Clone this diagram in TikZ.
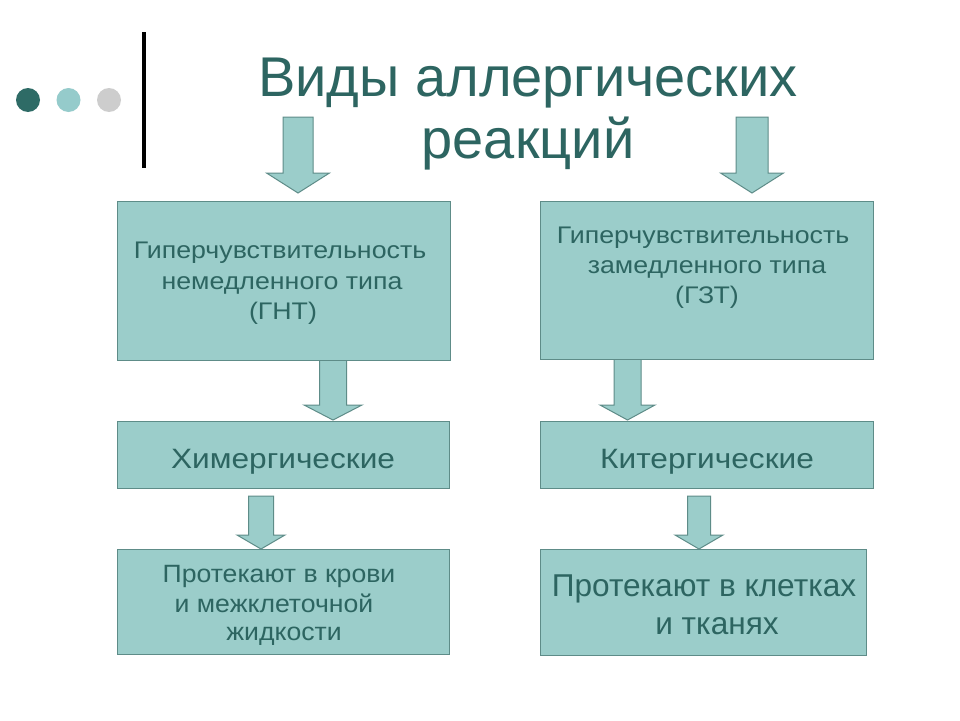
\documentclass[tikz,border=0pt]{standalone}
\usepackage{fontspec}
\setmainfont{Liberation Sans}
\newfontfamily\stA[FakeStretch=1.115]{Liberation Sans}
\newfontfamily\stB[FakeStretch=1.13]{Liberation Sans}
\newfontfamily\stC[FakeStretch=1.065]{Liberation Sans}
\definecolor{boxfill}{HTML}{9BCDCA}
\definecolor{boxline}{HTML}{5E8C88}
\definecolor{tcol}{HTML}{2D6561}
\definecolor{dotdark}{HTML}{2E6B66}
\definecolor{dotlight}{HTML}{95CBCB}
\definecolor{dotgrey}{HTML}{CDCDCD}
\newcommand{\blockarrow}[6]{% cx, top, headstart, tip, shaft half, head half
  \filldraw[arrowshape] (#1-#5,#2) -- (#1+#5,#2) -- (#1+#5,#3) -- (#1+#6,#3)
    -- (#1,#4) -- (#1-#6,#3) -- (#1-#5,#3) -- cycle;}
\begin{document}
\begin{tikzpicture}[x=1pt,y=-1pt,
  box/.style={draw=boxline, fill=boxfill, line width=1pt, inner sep=0pt},
  arrowshape/.style={draw=boxline, fill=boxfill, line width=1pt, line join=miter},
  txt/.style={anchor=base, inner sep=0pt, text=tcol},
  fA/.style={font=\stA\fontsize{24}{28}\selectfont},
  fB/.style={font=\stB\fontsize{28}{32}\selectfont},
  fC/.style={font=\stC\fontsize{25}{29}\selectfont},
  fD/.style={font=\fontsize{31.6}{36}\selectfont},
  titlef/.style={font=\fontsize{56}{64}\selectfont}]
\useasboundingbox (0,0) rectangle (960,720);
\fill[white] (0,0) rectangle (960,720);
% decoration
\fill[dotdark] (28,100) circle (12);
\fill[dotlight] (68.5,100) circle (12);
\fill[dotgrey] (109,100) circle (12);
\fill[black] (142,32) rectangle (146,168);
% title
\node[txt, titlef] (t1) at (528,96) {Виды аллергических};
\node[txt, titlef] (t2) at (528,158) {реакций};
% arrows
\blockarrow{298}{117}{173}{193}{15}{31.5}
\blockarrow{752}{117}{173}{193}{16}{31.5}
\blockarrow{333}{360}{405}{420}{13.5}{29}
\blockarrow{627.5}{359}{405}{420}{13.5}{27.5}
\blockarrow{261}{496}{535}{549}{12.5}{24}
\blockarrow{699}{496}{535}{549}{11.5}{24}
% boxes
\node[box, minimum width=333pt, minimum height=159pt] (b1) at (283.5,280.5) {};
\node[box, minimum width=333pt, minimum height=158pt] (b2) at (706.5,280) {};
\node[box, minimum width=332pt, minimum height=67pt] (b3) at (283,454.5) {};
\node[box, minimum width=333pt, minimum height=67pt] (b4) at (706.5,454.5) {};
\node[box, minimum width=332pt, minimum height=105pt] (b5) at (283,601.5) {};
\node[box, minimum width=326pt, minimum height=106pt] (b6) at (703,602) {};
% texts
\node[txt, fA] (l1a) at (280,258) {Гиперчувствительность};
\node[txt, fA] (l1b) at (282,289) {немедленного типа};
\node[txt, fA] (l1c) at (283,319) {(ГНТ)};
\node[txt, fA] (l2a) at (703,243) {Гиперчувствительность};
\node[txt, fA] (l2b) at (707,273) {замедленного типа};
\node[txt, fA] (l2c) at (707,303) {(ГЗТ)};
\node[txt, fB] (l3) at (283,468) {Химергические};
\node[txt, fB] (l4) at (707,468) {Китергические};
\node[txt, fC] (l5a) at (279,582) {Протекают в крови};
\node[txt, fC] (l5b) at (274,612) {и межклеточной};
\node[txt, fC] (l5c) at (284,640) {жидкости};
\node[txt, fD] (l6a) at (704,596) {Протекают в клетках};
\node[txt, fD] (l6b) at (717,634) {и тканях};
\end{tikzpicture}
\end{document}
